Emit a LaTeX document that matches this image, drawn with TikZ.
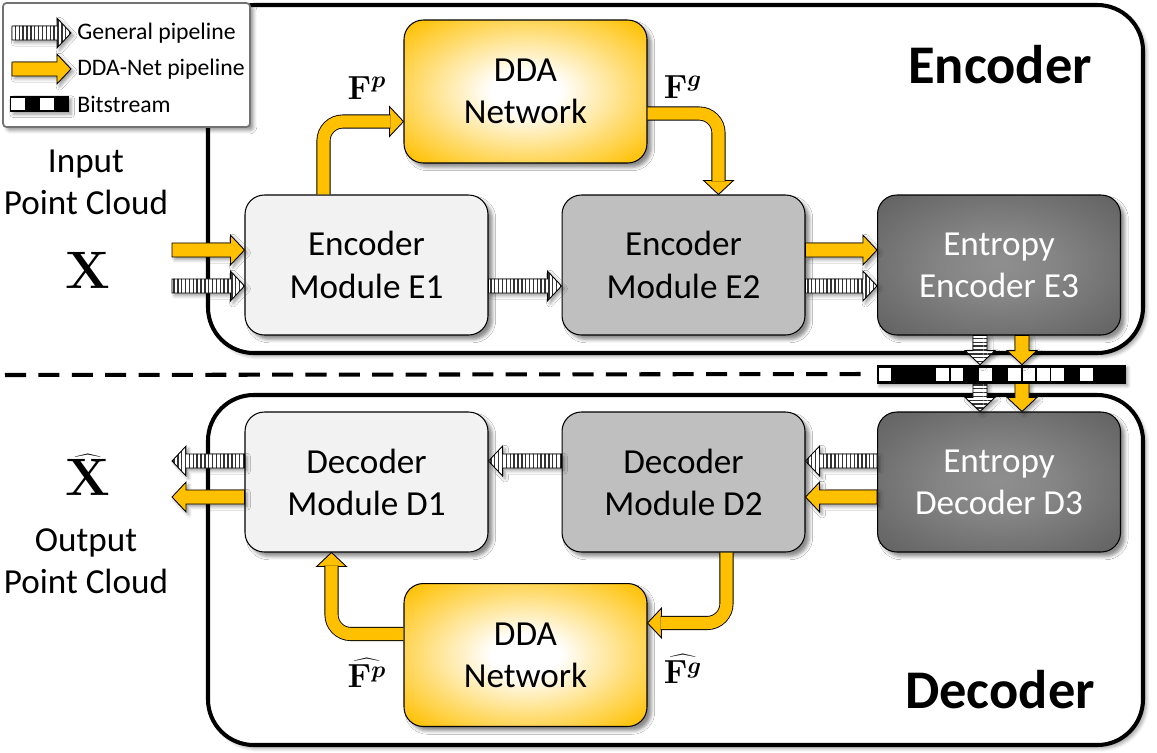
\RequirePackage{fix-cm}
\documentclass[tikz,border=0pt]{standalone}
\usepackage[no-math]{fontspec}
\setmainfont{Carlito}
\usepackage{bm}
\usetikzlibrary{calc, shadows.blur, patterns.meta, positioning}

\definecolor{ddagold}{HTML}{FFC000}
\pgfdeclareradialshading{ddashade}{\pgfpoint{0bp}{0bp}}{color(0bp)=(white); color(7bp)=(white); color(34bp)=(ddagold); color(50bp)=(ddagold)}
\pgfdeclareradialshading{entshade}{\pgfpoint{0bp}{0bp}}{color(0bp)=(black!44); color(12bp)=(black!48); color(42bp)=(black!66); color(50bp)=(black!66)}
\newcommand\pxu{0.56906pt}
\newcommand\arrsw{4pt}
\newcommand\arrhw{8.5pt}
\newcommand\arrhl{8pt}

\begin{document}
\begin{tikzpicture}[x=0.02cm, y=-0.02cm,
  frame/.style={draw, line width=2.3pt, rounded corners=26pt, fill=white,
    blur shadow={shadow xshift=2pt, shadow yshift=-2pt, shadow opacity=35}},
  block/.style={draw, line width=.6pt, rounded corners=11pt, minimum width=243*\pxu,
    minimum height=140*\pxu, align=center, font=\fontsize{20}{24}\selectfont,
    blur shadow={shadow xshift=2.5pt, shadow yshift=-2.5pt, shadow opacity=45}},
  lightblock/.style={block, fill=black!5},
  midblock/.style={block, fill=black!25},
  darkblock/.style={block, shade, shading=entshade, text=white},
  ddablock/.style={block, shade, shading=ddashade, minimum height=143*\pxu},
  fat/.style={to path={($(\tikztotarget)!\arrhl!(\tikztostart)$) coordinate (fb)
    ($(\tikztostart)!\arrsw!90:(\tikztotarget)$) -- ($(fb)!\arrsw!90:(\tikztotarget)$)
    -- ($(fb)!\arrhw!90:(\tikztotarget)$) -- (\tikztotarget)
    -- ($(fb)!\arrhw!-90:(\tikztotarget)$) -- ($(fb)!\arrsw!-90:(\tikztotarget)$)
    -- ($(\tikztostart)!\arrsw!-90:(\tikztotarget)$) -- cycle}},
  fathead/.style={to path={($(\tikztostart)!\arrhw!90:(\tikztotarget)$) -- (\tikztotarget)
    -- ($(\tikztostart)!\arrhw!-90:(\tikztotarget)$) -- cycle}},
  yarrow/.style={fat, draw, line width=.5pt, fill=ddagold,
    blur shadow={shadow xshift=1.5pt, shadow yshift=-1.5pt, shadow opacity=40}},
  sarrow/.style={fat, draw, line width=.5pt,
    blur shadow={shadow xshift=1.5pt, shadow yshift=-1.5pt, shadow opacity=40},
    preaction={fill=white}, pattern={Lines[angle=90, distance=2.2pt, line width=.8pt]},
    pattern color=black!80},
  svarrow/.style={sarrow, pattern={Lines[angle=0, distance=2.2pt, line width=.8pt]}},
  ycurve/.style={draw, line width=.5pt, double=ddagold, double distance=7pt, rounded corners=11pt},
  yhead/.style={fathead, draw, line width=.5pt, fill=ddagold},
  txt/.style={align=center, font=\fontsize{20}{24}\selectfont},
  titletxt/.style={font=\fontsize{31}{36}\selectfont\bfseries},
  lbl/.style={font=\fontsize{19}{22}\selectfont},
  bigx/.style={font=\fontsize{30}{36}\selectfont},
  legtxt/.style={anchor=west, inner sep=0pt, font=\fontsize{13.5}{16}\selectfont},
  bits/.style={draw, fill=black, inner sep=0pt,
    blur shadow={shadow xshift=1.5pt, shadow yshift=-1.5pt, shadow opacity=40}}]

  \useasboundingbox (0,0) rectangle (1157,752);

  % frames and separator
  \draw[frame] (208,5) rectangle (1143,353);
  \draw[frame] (208,395) rectangle (1143,745);
  \node[bits, minimum width=248*\pxu, minimum height=18*\pxu] (bs) at (1001,374) {};
  \foreach \k in {0,4,5,7,9,10,11,12,14}
    \fill[white] ($(bs.west)+(2+\k*14.4,-6.5)$) rectangle ++(12.5,13);
  \draw[line width=2.3pt, dash pattern=on 12pt off 7pt] (5,375) -- ($(bs.west)+(-14,0)$);

  % legend
  \draw[fill=white, draw=black!55, line width=1pt, rounded corners=2pt,
    blur shadow={shadow xshift=2pt, shadow yshift=-2pt, shadow opacity=40}] (3,3) rectangle (250,127);
  \node[legtxt] (lg1) at (77,33) {General pipeline};
  \node[legtxt] (lg2) at (77,69) {DDA-Net pipeline};
  \node[legtxt] (lg3) at (77,104) {Bitstream};
  \coordinate (lga) at (12,33);
  \coordinate (lgb) at (12,69);
  \path[sarrow] (lga) to ($(lg1.west)+(-6,0)$);
  \path[yarrow] (lgb) to ($(lg2.west)+(-6,0)$);
  \node[bits, minimum width=58*\pxu, minimum height=15*\pxu, anchor=east] (lgbits) at ($(lg3.west)+(-8,0)$) {};
  \foreach \k in {0,2}
    \fill[white] ($(lgbits.west)+(1+\k*14.5,-6)$) rectangle ++(13.5,12);

  % titles
  \node[titletxt] (enc) at (1000,65) {Encoder};
  \node[titletxt] (dec) at (1000,690) {Decoder};

  % encoder
  \node[lightblock] (e1) at (366.5,265) {Encoder\\Module E1};
  \node[midblock] (e2) at (683.5,265) {Encoder\\Module E2};
  \node[darkblock] (e3) at (999,265) {Entropy\\Encoder E3};
  \node[ddablock] (dda1) at (525.5,91.5) {DDA\\Network};

  % decoder
  \node[lightblock] (d1) at (366.5,482) {Decoder\\Module D1};
  \node[midblock] (d2) at (683.5,482) {Decoder\\Module D2};
  \node[darkblock] (d3) at (999,482) {Entropy\\Decoder D3};
  \node[ddablock] (dda2) at (525.5,655) {DDA\\Network};

  % input / output
  \node[txt] (inlbl) at (86,182) {Input\\Point Cloud};
  \node[bigx] (xin) at (88,270) {$\mathbf{X}$};
  \node[bigx] (xout) at (88,475) {$\widehat{\mathbf{X}}$};
  \node[txt] (outlbl) at (86,561) {Output\\Point Cloud};
  \coordinate (inp) at (172,265);
  \coordinate (outp) at (172,482);

  % straight pipelines
  \path[yarrow] ($(inp)+(0,-15)$) to ($(e1.west)+(0,-15)$);
  \path[sarrow] ($(inp)+(0,21)$) to ($(e1.west)+(0,21)$);
  \path[sarrow] ($(e1.east)+(0,21)$) to ($(e2.west)+(0,21)$);
  \path[yarrow] ($(e2.east)+(0,-15)$) to ($(e3.west)+(0,-15)$);
  \path[sarrow] ($(e2.east)+(0,21)$) to ($(e3.west)+(0,21)$);
  \path[svarrow] ($(e3.south)+(-19,0)$) to ($(e3.south |- bs.north)+(-19,0)$);
  \path[yarrow] ($(e3.south)+(23,0)$) to ($(e3.south |- bs.north)+(23,0)$);
  \path[svarrow] ($(d3.north |- bs.south)+(-19,0)$) to ($(d3.north)+(-19,0)$);
  \path[yarrow] ($(d3.north |- bs.south)+(23,0)$) to ($(d3.north)+(23,0)$);
  \path[sarrow] ($(d3.west)+(0,-21)$) to ($(d2.east)+(0,-21)$);
  \path[yarrow] ($(d3.west)+(0,15)$) to ($(d2.east)+(0,15)$);
  \path[sarrow] ($(d2.west)+(0,-21)$) to ($(d1.east)+(0,-21)$);
  \path[sarrow] ($(d1.west)+(0,-21)$) to ($(outp)+(0,-21)$);
  \path[yarrow] ($(d1.west)+(0,15)$) to ($(outp)+(0,15)$);

  % DDA loops
  \coordinate (fp1) at ($(e1.north west)+(79,0)$);
  \coordinate (fp2) at ($(dda1.west)+(0,30)$);
  \path[yhead] ($(fp2)+(-14,0)$) to (fp2);
  \draw[ycurve] (fp1) |- ($(fp2)+(-13,0)$);
  \coordinate (fg1) at ($(dda1.east)+(0,22)$);
  \coordinate (fg2) at ($(e2.north)+(35,0)$);
  \path[yhead] ($(fg2)+(0,-14)$) to (fg2);
  \draw[ycurve] (fg1) -| ($(fg2)+(0,-13)$);
  \coordinate (hg1) at ($(d2.south)+(43,0)$);
  \coordinate (hg2) at ($(dda2.east)+(0,-32)$);
  \path[yhead] ($(hg2)+(14,0)$) to (hg2);
  \draw[ycurve] (hg1) |- ($(hg2)+(13,0)$);
  \coordinate (hp1) at ($(dda2.west)+(0,-21)$);
  \coordinate (hp2) at ($(d1.south west)+(87,0)$);
  \path[yhead] ($(hp2)+(0,14)$) to (hp2);
  \draw[ycurve] (hp1) -| ($(hp2)+(0,13)$);

  \node[lbl] (fp) at (367,88) {$\mathbf{F}^{\bm{p}}$};
  \node[lbl] (fg) at (683,87) {$\mathbf{F}^{\bm{g}}$};
  \node[lbl] (hfp) at (367,673) {$\widehat{\mathbf{F}^{\bm{p}}}$};
  \node[lbl] (hfg) at (683,669) {$\widehat{\mathbf{F}^{\bm{g}}}$};
\end{tikzpicture}
\end{document}
